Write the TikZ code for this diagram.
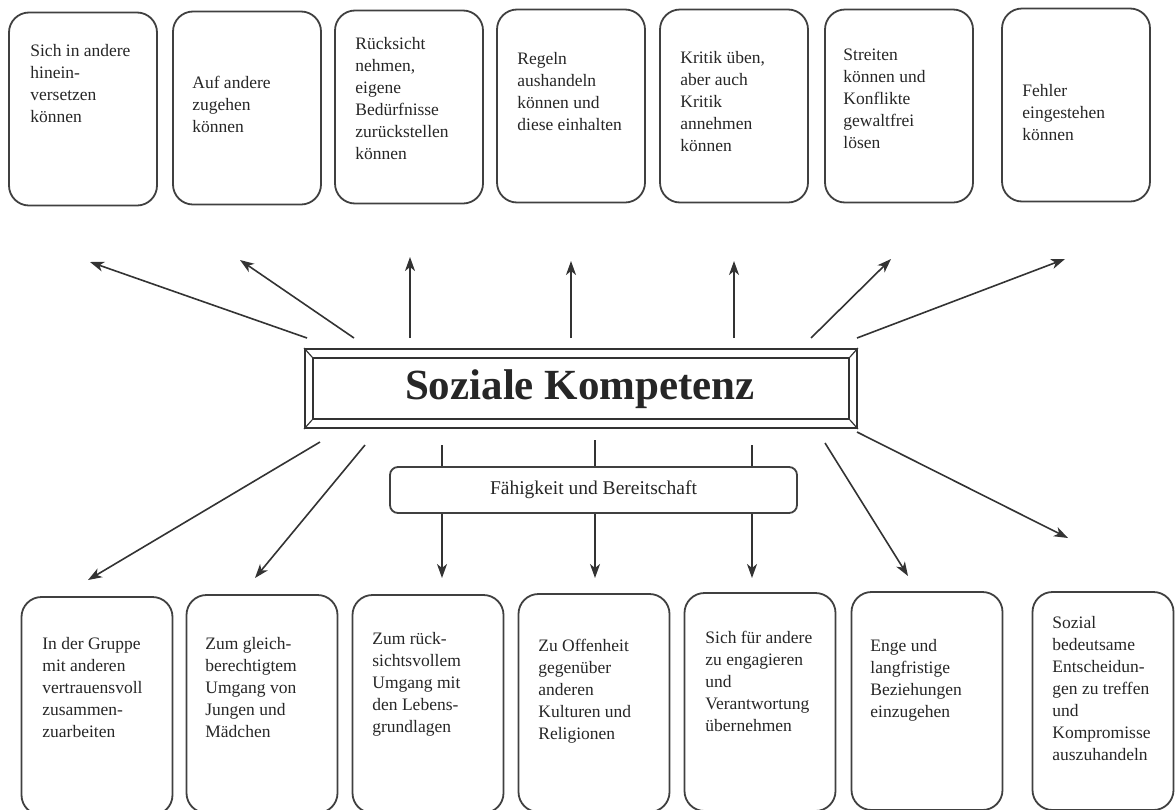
\documentclass[tikz,border=0pt]{standalone}
\usepackage{fontspec}
\setmainfont{Liberation Serif}
\usetikzlibrary{arrows.meta}

\begin{document}
\begin{tikzpicture}[x=0.5pt,y=-0.5pt]
\tikzstyle{kbox}=[draw=black!75, line width=0.9pt, rounded corners=10pt, minimum width=74pt, inner sep=0pt]
\tikzstyle{topbox}=[kbox, minimum height=96.5pt]
\tikzstyle{botbox}=[kbox, minimum height=109pt, minimum width=75.5pt]
\tikzstyle{ktext}=[anchor=north west, inner sep=0pt, align=left, text=black!85, font=\fontsize{8.75}{11}\selectfont]
\tikzstyle{arr}=[draw=black!80, line width=0.8pt, -{Stealth[length=7pt,width=5pt,inset=2pt]}]
\useasboundingbox (0,0) rectangle (1176,809);
\clip (0,0) rectangle (1176,809);

% obere Reihe
\node[topbox] (o1) at (83,109) {};
\node[topbox] (o2) at (247,108) {};
\node[topbox] (o3) at (409,107) {};
\node[topbox] (o4) at (571,106) {};
\node[topbox] (o5) at (734,106) {};
\node[topbox] (o6) at (899,106) {};
\node[topbox] (o7) at (1076,105) {};
\node[ktext] (o1t) at (30,44) {Sich in andere\\hinein-\\versetzen\\können};
\node[ktext] (o2t) at (192,76) {Auf andere\\zugehen\\können};
\node[ktext] (o3t) at (355,37) {Rücksicht\\nehmen,\\eigene\\Bedürfnisse\\zurückstellen\\können};
\node[ktext] (o4t) at (517,52) {Regeln\\aushandeln\\können und\\diese einhalten};
\node[ktext] (o5t) at (680,51) {Kritik üben,\\aber auch\\Kritik\\annehmen\\können};
\node[ktext] (o6t) at (843,49) {Streiten\\können und\\Konflikte\\gewaltfrei\\lösen};
\node[ktext] (o7t) at (1022,84) {Fehler\\eingestehen\\können};

% untere Reihe
\node[botbox] (u1) at (97,706) {};
\node[botbox] (u2) at (262,704) {};
\node[botbox] (u3) at (428,704) {};
\node[botbox] (u4) at (594,703) {};
\node[botbox] (u5) at (760,702) {};
\node[botbox] (u6) at (927,701) {};
\node[botbox, minimum width=70.5pt] (u7) at (1103,701) {};
\node[ktext] (u1t) at (42,637) {In der Gruppe\\mit anderen\\vertrauensvoll\\zusammen-\\zuarbeiten};
\node[ktext] (u2t) at (205,637) {Zum gleich-\\berechtigtem\\Umgang von\\Jungen und\\Mädchen};
\node[ktext] (u3t) at (372,632) {Zum rück-\\sichtsvollem\\Umgang mit\\den Lebens-\\grundlagen};
\node[ktext] (u4t) at (538,639) {Zu Offenheit\\gegenüber\\anderen\\Kulturen und\\Religionen};
\node[ktext] (u5t) at (705,631) {Sich für andere\\zu engagieren\\und\\Verantwortung\\übernehmen};
\node[ktext] (u6t) at (870,639) {Enge und\\langfristige\\Beziehungen\\einzugehen};
\node[ktext] (u7t) at (1052,616) {Sozial\\bedeutsame\\Entscheidun-\\gen zu treffen\\und\\Kompromisse\\auszuhandeln};

% Pfeile nach oben
\coordinate (p1) at (307,338); \coordinate (q1) at (90,262);
\coordinate (p2) at (354,338); \coordinate (q2) at (240,260);
\coordinate (p3) at (410,338); \coordinate (q3) at (410,257);
\coordinate (p4) at (571,338); \coordinate (q4) at (571,261);
\coordinate (p5) at (734,338); \coordinate (q5) at (734,261);
\coordinate (p6) at (811,338); \coordinate (q6) at (891,259);
\coordinate (p7) at (857,338); \coordinate (q7) at (1065,259);
\draw[arr] (p1) -- (q1);
\draw[arr] (p2) -- (q2);
\draw[arr] (p3) -- (q3);
\draw[arr] (p4) -- (q4);
\draw[arr] (p5) -- (q5);
\draw[arr] (p6) -- (q6);
\draw[arr] (p7) -- (q7);

% Pfeile nach unten
\coordinate (r1) at (320,442); \coordinate (s1) at (88,580);
\coordinate (r2) at (365,445); \coordinate (s2) at (255,578);
\coordinate (r3) at (442,445); \coordinate (s3) at (442,578);
\coordinate (r4) at (595,440); \coordinate (s4) at (595,578);
\coordinate (r5) at (752,445); \coordinate (s5) at (752,578);
\coordinate (r6) at (825,443); \coordinate (s6) at (908,576);
\coordinate (r7) at (857,432); \coordinate (s7) at (1068,538);
\draw[arr] (r1) -- (s1);
\draw[arr] (r2) -- (s2);
\draw[arr] (r3) -- (s3);
\draw[arr] (r4) -- (s4);
\draw[arr] (r5) -- (s5);
\draw[arr] (r6) -- (s6);
\draw[arr] (r7) -- (s7);

% Mitte
\node[draw=black!80, line width=0.9pt, minimum width=276pt, minimum height=39.5pt, inner sep=0pt] (sk) at (581,388.5) {};
\node[draw=black!80, line width=0.9pt, minimum width=268pt, minimum height=30.5pt, inner sep=0pt] (ski) at (sk.center) {};
\draw[black!80, line width=0.6pt] (sk.north west) -- (ski.north west);
\draw[black!80, line width=0.6pt] (sk.north east) -- (ski.north east);
\draw[black!80, line width=0.6pt] (sk.south west) -- (ski.south west);
\draw[black!80, line width=0.6pt] (sk.south east) -- (ski.south east);
\node[text=black!85, font=\bfseries\fontsize{21.5}{24}\selectfont] (skt) at (580,389) {Soziale Kompetenz};

\node[draw=black!75, line width=0.9pt, fill=white, rounded corners=4pt, minimum width=203.5pt, minimum height=23pt, text=black!85, font=\fontsize{9.75}{12}\selectfont] (fb) at (593.5,490) {Fähigkeit und Bereitschaft};
\end{tikzpicture}
\end{document}
